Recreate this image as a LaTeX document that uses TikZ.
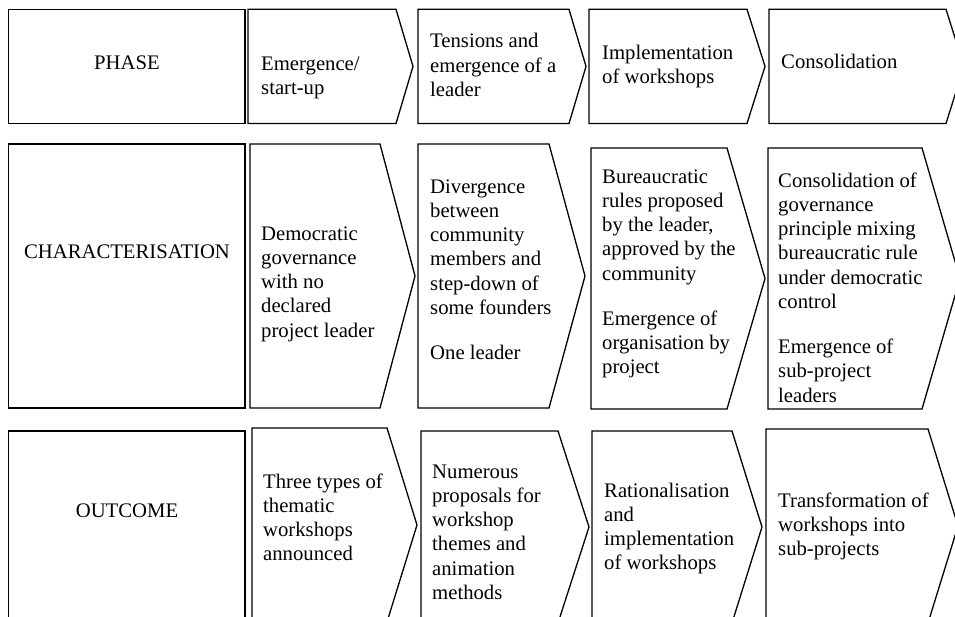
\documentclass[tikz,border=0pt]{standalone}
\usepackage{fontspec}
\setmainfont{Liberation Serif}
\newcommand{\chevshape}[6]{% name, left, flat, tip, top, bottom
  \draw[boxline] (#2,#5) coordinate (#1-nw) -- (#3,#5) -- (#4,{(#5+#6)/2}) coordinate (#1-tip) -- (#3,#6) -- (#2,#6) -- cycle;}
\newcommand{\lines}[1]{\begin{tabular}[t]{@{}l@{}}#1\end{tabular}}
\begin{document}
\begin{tikzpicture}[x=1pt,y=-1pt,
  boxline/.style={draw=black,line width=1.3pt,line join=miter},
  txt/.style={anchor=base west,inner sep=0pt,font=\fontsize{20.7}{24.3}\selectfont},
  head/.style={anchor=base,inner sep=0pt,font=\fontsize{20.7}{24.3}\selectfont}]
\useasboundingbox (0,0) rectangle (955,616);
% row 1
\draw[boxline] (8.7,9.3) rectangle (245,123.5);
\chevshape{c11}{248}{396}{413}{9.3}{123.5}
\chevshape{c12}{418}{569}{586}{9.3}{123.5}
\chevshape{c13}{589}{747}{765}{9.3}{123.5}
\chevshape{c14}{769}{946}{964}{9.3}{123.5}
% row 2
\draw[boxline] (8.7,144) rectangle (245,408);
\chevshape{c21}{250}{380}{415}{144}{408}
\chevshape{c22}{418}{549}{585}{144}{408}
\chevshape{c23}{591}{727}{765}{148}{409}
\chevshape{c24}{768}{922}{960}{148}{409}
% row 3
\draw[boxline] (8.7,431) rectangle (245,640);
\chevshape{c31}{252}{387}{417}{428}{622}
\chevshape{c32}{421}{558}{589}{431}{623}
\chevshape{c33}{592}{732}{762}{431}{623}
\chevshape{c34}{766}{928}{958}{429}{623}
% texts
\node[head] (t10) at (127,69) {PHASE};
\node[txt] (t11) at (261,70) {\lines{Emergence/\\start-up}};
\node[txt] (t12) at (430,47.7) {\lines{Tensions and\\emergence of a\\leader}};
\node[txt] (t13) at (602,59) {\lines{Implementation\\of workshops}};
\node[txt] (t14) at (781,68) {Consolidation};
\node[head] (t20) at (127,258) {CHARACTERISATION};
\node[txt] (t21) at (261,240) {\lines{Democratic\\governance\\with no\\declared\\project leader}};
\node[txt] (t22) at (430,193) {\lines{Divergence\\between\\community\\members and\\step-down of\\some founders\\[20.7pt]One leader}};
\node[txt] (t23) at (602,183) {\lines{Bureaucratic\\rules proposed\\by the leader,\\approved by the\\community\\[20.7pt]Emergence of\\organisation by\\project}};
\node[txt] (t24) at (778,187) {\lines{Consolidation of\\governance\\principle mixing\\bureaucratic rule\\under democratic\\control\\[20.7pt]Emergence of\\sub-project\\leaders}};
\node[head] (t30) at (127,517) {OUTCOME};
\node[txt] (t31) at (263,488) {\lines{Three types of\\thematic\\workshops\\announced}};
\node[txt] (t32) at (432,478) {\lines{Numerous\\proposals for\\workshop\\themes and\\animation\\methods}};
\node[txt] (t33) at (604,497) {\lines{Rationalisation\\and\\implementation\\of workshops}};
\node[txt] (t34) at (778,507) {\lines{Transformation of\\workshops into\\sub-projects}};
\end{tikzpicture}
\end{document}
